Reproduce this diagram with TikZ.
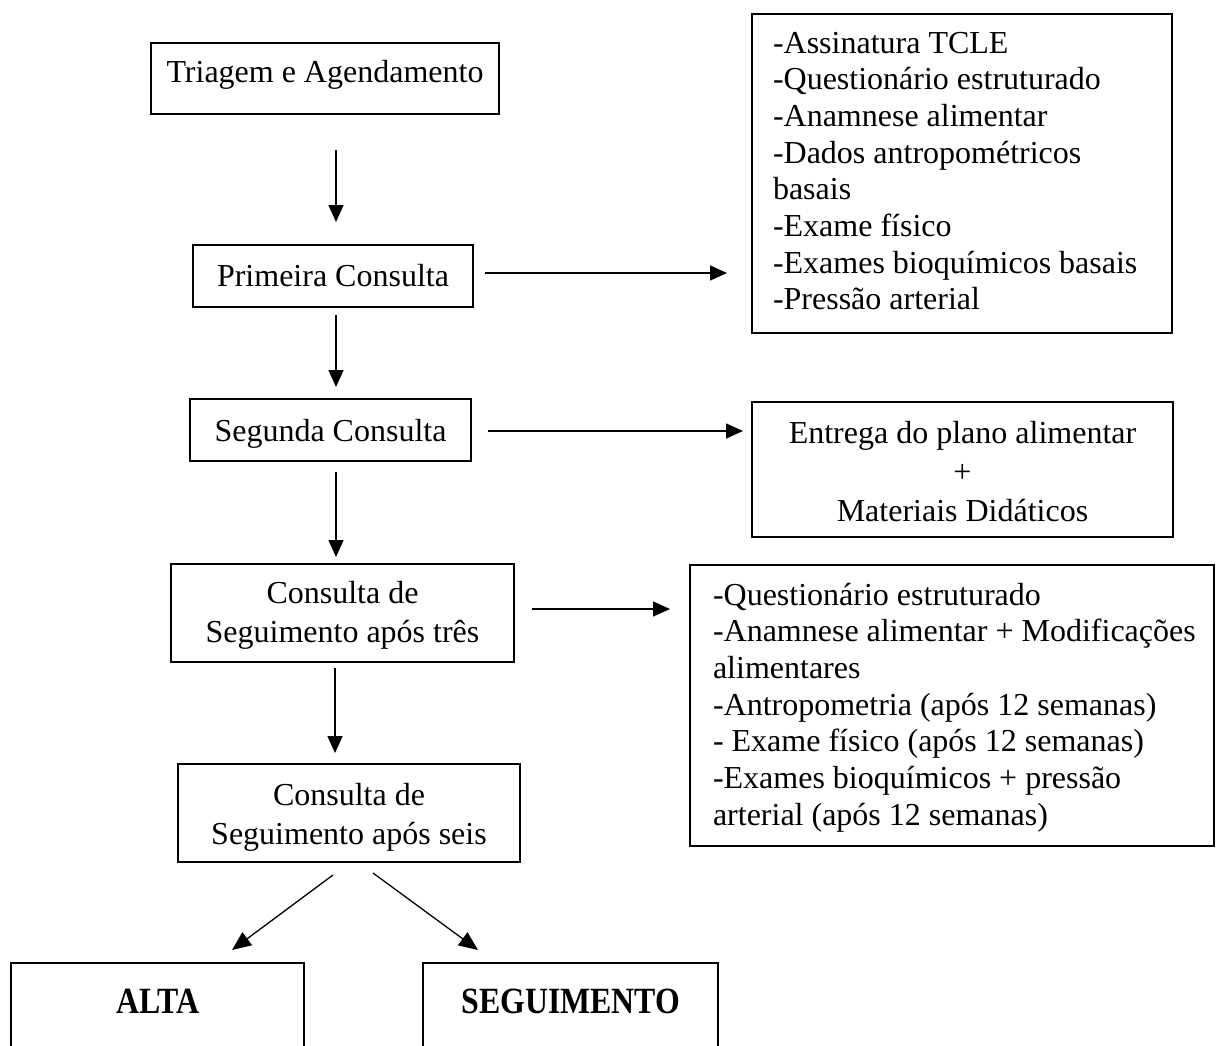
\documentclass[tikz,border=0pt]{standalone}
\usepackage{fontspec}
\setmainfont{Liberation Serif}
\newfontface\condbold{Liberation Serif Bold}[FakeStretch=0.86]
\usetikzlibrary{arrows.meta}
\newcommand\firststrut{\rule{0pt}{30pt}}
\begin{document}
\begin{tikzpicture}[x=1pt,y=-1pt,
  boxnode/.style={draw, line width=2pt, inner sep=0pt, outer sep=0pt},
  thickbox/.style={boxnode, line width=2.6pt},
  txt/.style={inner sep=0pt, outer sep=0pt, font=\fontsize{32}{36.7}\selectfont},
  ctxt/.style={txt, align=center, font=\fontsize{32}{39}\selectfont},
  ltxt/.style={txt, align=left},
  btxt/.style={inner sep=0pt, outer sep=0pt, font=\condbold\fontsize{37}{40}\selectfont},
  arr/.style={line width=1.5pt, -{Triangle[length=17pt,width=15pt]}},
  darr/.style={line width=1.3pt, -{Triangle[length=19pt,width=16pt]}}]
\clip (0,0) rectangle (1219,1045);
\fill[white] (0,0) rectangle (1219,1045);

% boxes
\node[boxnode, minimum width=348pt, minimum height=71pt] (triage) at (325,78.5) {};
\node[boxnode, minimum width=280pt, minimum height=62pt] (primeira) at (333,276) {};
\node[boxnode, minimum width=281pt, minimum height=62pt] (segunda) at (330.5,430) {};
\node[boxnode, minimum width=343pt, minimum height=98pt] (tres) at (342.5,613) {};
\node[boxnode, minimum width=342pt, minimum height=98pt] (seis) at (349,813) {};
\node[boxnode, minimum width=420pt, minimum height=319pt] (right1) at (962,173.5) {};
\node[boxnode, minimum width=421pt, minimum height=135pt] (right2) at (962.5,469.5) {};
\node[boxnode, minimum width=524pt, minimum height=281pt] (right3) at (952,705.5) {};
\node[thickbox, minimum width=293pt, minimum height=120pt] (alta) at (157.5,1023) {};
\node[thickbox, minimum width=295pt, minimum height=120pt] (seg) at (570.5,1023) {};

% texts
\node[txt, anchor=base] (triaget) at (325,82) {Triagem e Agendamento};
\node[txt, anchor=base] (primeirat) at (333,286) {Primeira Consulta};
\node[txt, anchor=base] (segundat) at (330.5,441) {Segunda Consulta};
\node[ctxt, anchor=north] (trest) at (342.5,573) {\firststrut Consulta de\\Seguimento após três};
\node[ctxt, anchor=north] (seist) at (349,775) {\firststrut Consulta de\\Seguimento após seis};
\node[ltxt, anchor=north west] (right1t) at (773,23) {\firststrut -Assinatura TCLE\\-Questionário estruturado\\-Anamnese alimentar\\-Dados antropométricos\\basais\\-Exame físico\\-Exames bioquímicos basais\\-Pressão arterial};
\node[ctxt, anchor=north] (right2t) at (962.5,413) {\firststrut Entrega do plano alimentar\\+\\Materiais Didáticos};
\node[ltxt, anchor=north west] (right3t) at (713,575) {\firststrut -Questionário estruturado\\-Anamnese alimentar + Modificações\\alimentares\\-Antropometria (após 12 semanas)\\- Exame físico (após 12 semanas)\\-Exames bioquímicos + pressão\\arterial (após 12 semanas)};
\node[btxt, anchor=base] (altat) at (158,1013) {ALTA};
\node[btxt, anchor=base] (segt) at (571,1013) {SEGUIMENTO};

% vertical arrows
\draw[arr] ([xshift=11pt,yshift=-36pt]triage.south) -- ([xshift=3pt,yshift=23pt]primeira.north);
\draw[arr] ([xshift=3pt,yshift=-8pt]primeira.south) -- ([xshift=5.5pt,yshift=12pt]segunda.north);
\draw[arr] ([xshift=5.5pt,yshift=-11pt]segunda.south) -- ([xshift=-6.5pt,yshift=7pt]tres.north);
\draw[arr] ([xshift=-7.5pt,yshift=-6pt]tres.south) -- ([xshift=-14pt,yshift=11pt]seis.north);

% horizontal arrows
\draw[arr] ([xshift=12pt,yshift=3pt]primeira.east) -- ([xshift=-25pt,yshift=-99.5pt]right1.west);
\draw[arr] ([xshift=17pt,yshift=-1pt]segunda.east) -- ([xshift=-9pt,yshift=38.5pt]right2.west);
\draw[arr] ([xshift=18pt,yshift=4pt]tres.east) -- ([xshift=-20pt,yshift=96.5pt]right3.west);

% diagonal arrows
\draw[darr] ([xshift=-16pt,yshift=-13pt]seis.south) -- ([xshift=74.5pt,yshift=13pt]alta.north);
\draw[darr] ([xshift=24pt,yshift=-11pt]seis.south) -- ([xshift=-92.5pt,yshift=13pt]seg.north);
\end{tikzpicture}
\end{document}
